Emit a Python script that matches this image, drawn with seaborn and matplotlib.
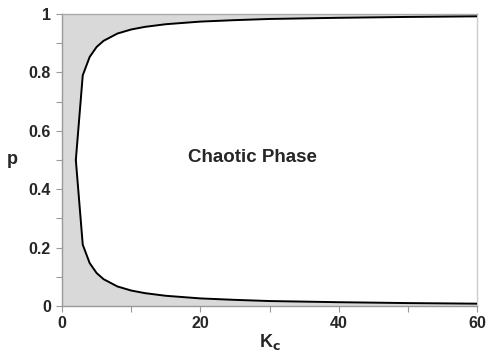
import matplotlib
matplotlib.use("Agg")
import matplotlib.pyplot as plt
import seaborn as sns
import pandas as pd

kc = [2, 3, 4, 5, 6, 8, 10, 12, 15, 20, 25, 30, 40, 50, 60]
p_upper = [0.5, 0.79, 0.853, 0.887, 0.908, 0.933, 0.947, 0.956, 0.965, 0.974, 0.979, 0.983, 0.987, 0.990, 0.992]
p_lower = [0.5, 0.21, 0.147, 0.113, 0.092, 0.067, 0.053, 0.044, 0.035, 0.026, 0.021, 0.017, 0.013, 0.010, 0.008]

xticks = [0, 20, 40, 60]
yticks = [0, 0.2, 0.4, 0.6, 0.8, 1]
ytick_labels = ["0", "0.2", "0.4", "0.6", "0.8", "1"]

sns.set_style("ticks")
plt.rcParams['font.family'] = ['Liberation Sans', 'DejaVu Sans']

fig = plt.figure(figsize=(4.86, 3.52), dpi=100)
ax = fig.add_axes([62/486, 1-306/352, (477-62)/486, (306-14)/352])
ax.set_facecolor("#d9d9d9")

df = pd.DataFrame({"Kc": kc, "upper": p_upper, "lower": p_lower})
ax.fill_between(df["Kc"], df["lower"], df["upper"], color="white", lw=0, zorder=1)
sns.lineplot(data=df, x="Kc", y="upper", ax=ax, color="black", lw=1.4, zorder=3)
sns.lineplot(data=df, x="Kc", y="lower", ax=ax, color="black", lw=1.4, zorder=3)

ax.set_xlim(0, 60)
ax.set_ylim(0, 1)
ax.set_xticks(xticks)
ax.set_xticks([10, 30, 50], minor=True)
ax.set_yticks(yticks)
ax.set_yticklabels(ytick_labels)
ax.set_yticks([0.1, 0.3, 0.5, 0.7, 0.9], minor=True)
ax.tick_params(axis="both", which="both", direction="out", length=4, color="#999999", width=0.8)
ax.tick_params(axis="both", which="major", labelsize=11.5)
ax.tick_params(axis="y", which="major", pad=4)
ax.tick_params(axis="x", which="major", pad=3)
for lab in ax.get_xticklabels() + ax.get_yticklabels():
    lab.set_fontweight("bold")

ax.set_xlabel("K$_\\mathbf{c}$", fontsize=13, fontweight="bold", labelpad=1)
ax.set_ylabel("p", fontsize=13, fontweight="bold", rotation=0, labelpad=12, va="center")

ax.text(27.6, 0.508, "Chaotic Phase", fontsize=13.5, fontweight="bold", ha="center", va="center")

ax.spines["left"].set_color("#999999")
ax.spines["bottom"].set_color("#999999")
ax.spines["top"].set_color("#aaaaaa")
ax.spines["right"].set_color("#cccccc")
for s in ax.spines.values():
    s.set_linewidth(1.0)

fig.savefig("out.png", dpi=100)
